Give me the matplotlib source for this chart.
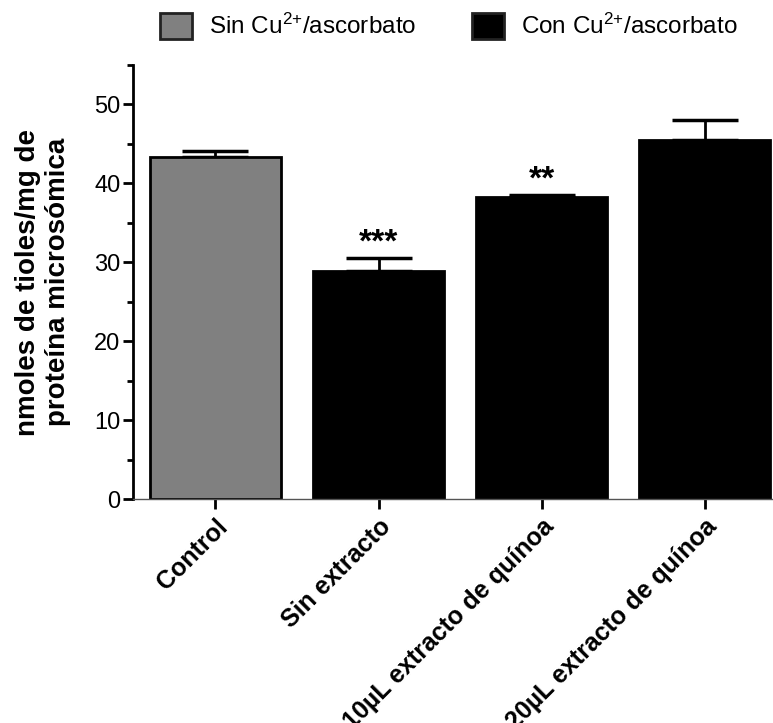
import matplotlib
matplotlib.use("Agg")
import matplotlib.pyplot as plt
from matplotlib.patches import Patch
from matplotlib.ticker import MultipleLocator

plt.rcParams['font.family'] = ['Liberation Sans', 'DejaVu Sans']
plt.rcParams['mathtext.fontset'] = 'custom'
plt.rcParams['mathtext.rm'] = 'Liberation Sans'
plt.rcParams['mathtext.it'] = 'Liberation Sans:italic'
plt.rcParams['mathtext.bf'] = 'Liberation Sans:bold'

categories = ["Control", "Sin extracto", "10µL extracto de quínoa", "20µL extracto de quínoa"]
values = [43.3, 28.9, 38.3, 45.5]
errors = [0.8, 1.6, 0.2, 2.5]
colors = ["#808080", "#000000", "#000000", "#000000"]
stars = ["", "***", "**", ""]
legend_labels = ["Sin Cu$^{\\mathregular{2{+}}}$/ascorbato", "Con Cu$^{\\mathregular{2{+}}}$/ascorbato"]
ylabel = "nmoles de tioles/mg de\nproteína microsómica"

fig = plt.figure(figsize=(7.73, 7.23), dpi=100)
ax = fig.add_axes([133/773, 1-499/723, 1-133/773, (499-65)/723])

x = list(range(len(categories)))
ax.errorbar(x, values, yerr=[[0]*len(values), errors], fmt='none', ecolor='black',
            elinewidth=2, capsize=24, capthick=2.5, zorder=1)
ax.bar(x, values, width=0.8, color=colors, edgecolor='black', linewidth=2, zorder=2)

for xi, v, e, s in zip(x, values, errors, stars):
    if s:
        ax.annotate(s, (xi, v + e), xytext=(0, 0), textcoords='offset points',
                    ha='center', va='bottom', fontsize=24, fontweight='bold')

ax.set_xlim(-0.506, 3.42)
ax.set_ylim(0, 55)
ax.yaxis.set_major_locator(MultipleLocator(10))
ax.yaxis.set_minor_locator(MultipleLocator(5))

ax.set_xticks(x)
ax.set_xticklabels(categories, rotation=45, ha='right', rotation_mode='anchor',
                   fontsize=18, fontweight='bold')

ax.spines['top'].set_visible(False)
ax.spines['right'].set_visible(False)
ax.spines['left'].set_linewidth(2)
ax.spines['bottom'].set_linewidth(1)
ax.spines['bottom'].set_color('#555555')
ax.tick_params(axis='y', which='major', length=7, width=2, labelsize=17, pad=2)
ax.tick_params(axis='y', which='minor', length=4, width=2)
ax.tick_params(axis='x', which='major', length=7, width=2, pad=4)

ax.set_ylabel(ylabel, fontsize=20, fontweight='bold', labelpad=17, linespacing=1.2)

handles = [Patch(facecolor=colors[0], edgecolor='#222222', linewidth=2),
           Patch(facecolor=colors[1], edgecolor='#222222', linewidth=2)]
fig.legend(handles, legend_labels, loc='center', bbox_to_anchor=(449/773, 1-26/723),
           ncol=2, frameon=False, fontsize=17.5, handlelength=1.3, handleheight=1.3,
           columnspacing=2.3, handletextpad=0.7)

fig.savefig("out.png", dpi=100)
